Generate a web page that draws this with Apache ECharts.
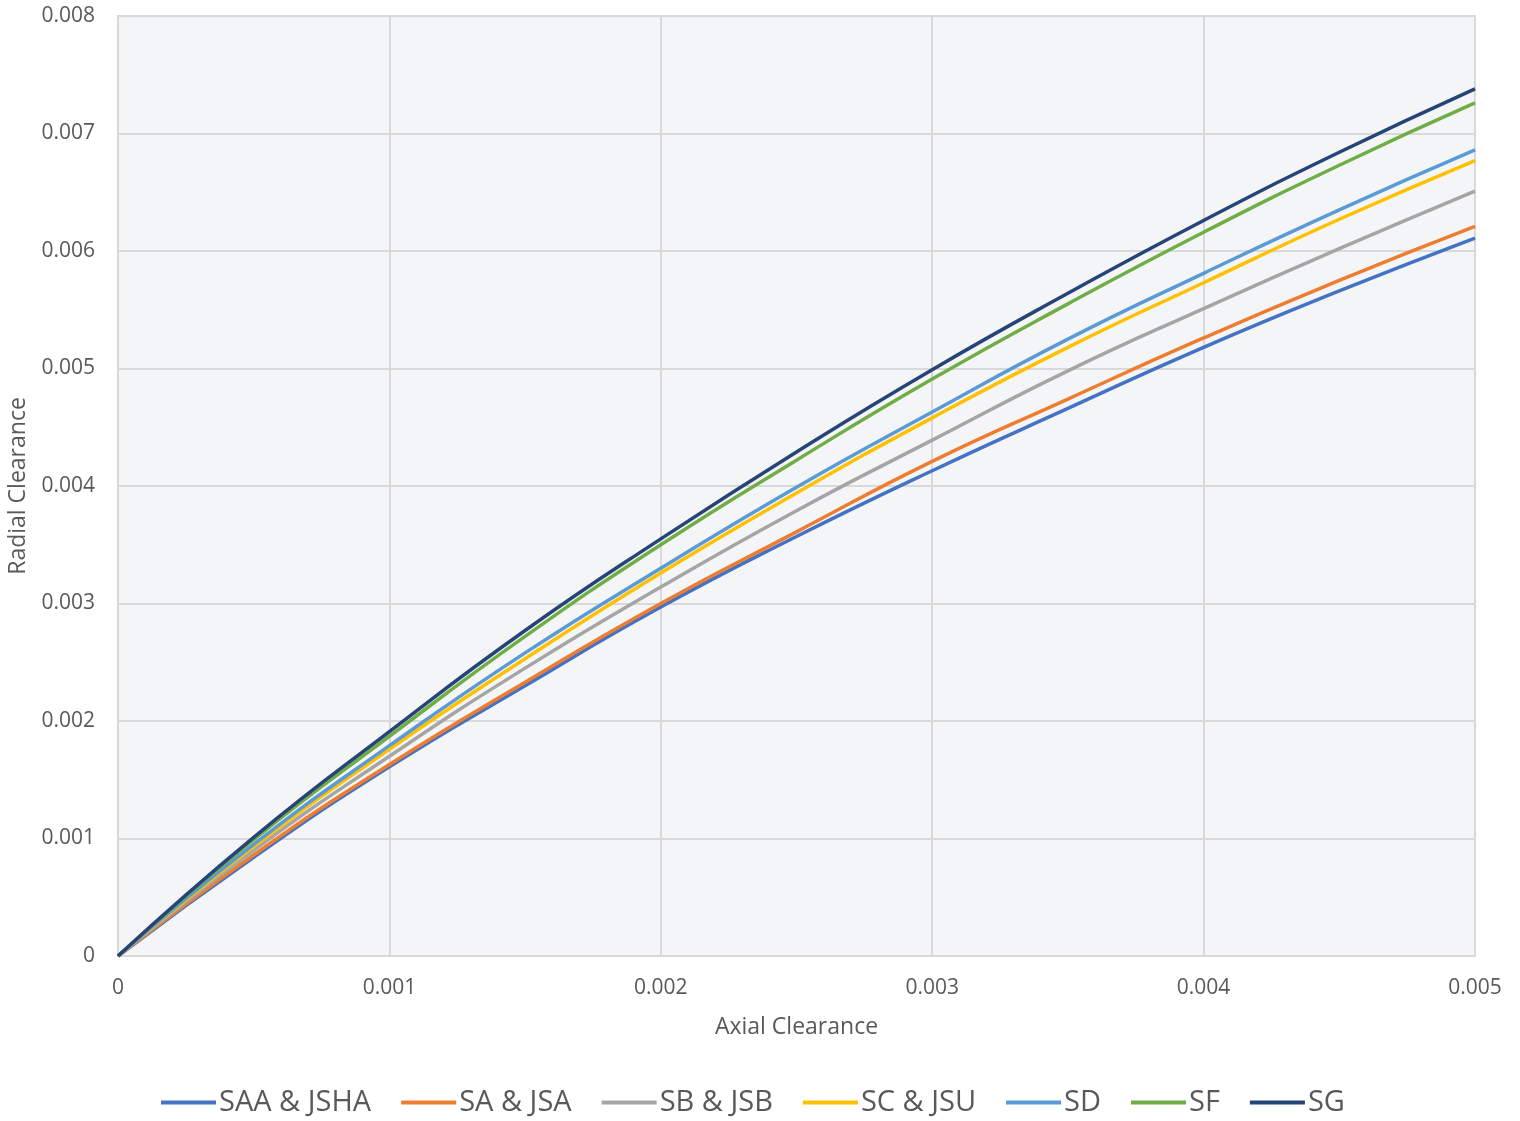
<!DOCTYPE html>
<html>
<head>
<meta charset="utf-8">
<title>Radial vs Axial Clearance</title>
<script src="https://cdn.jsdelivr.net/npm/echarts@6/dist/echarts.min.js"></script>
<style>
  html, body { margin: 0; padding: 0; background: #fff; }
  #chart { width: 1520px; height: 1121px; }
</style>
</head>
<body>
<div id="chart"></div>
<script>
// axial clearance (x) sample points
const axial = [0, 0.0005, 0.001, 0.0015, 0.002, 0.0025, 0.003, 0.0035, 0.004, 0.0045, 0.005]

// radial clearance per series
const saaJsha = [0, 0.00084, 0.00161, 0.00230, 0.00297, 0.00357, 0.00413, 0.00466, 0.00518, 0.00566, 0.00611]
const saJsa = [0, 0.00086, 0.00163, 0.00233, 0.00300, 0.00361, 0.00421, 0.00474, 0.00526, 0.00575, 0.00621]
const sbJsb = [0, 0.00090, 0.00170, 0.00245, 0.00314, 0.00379, 0.00439, 0.00498, 0.00551, 0.00602, 0.00651]
const scJsu = [0, 0.00093, 0.00176, 0.00253, 0.00326, 0.00394, 0.00458, 0.00518, 0.00573, 0.00627, 0.00677]
const sd = [0, 0.00095, 0.00179, 0.00258, 0.00330, 0.00399, 0.00463, 0.00525, 0.00581, 0.00635, 0.00686]
const sf = [0, 0.00099, 0.00187, 0.00272, 0.00350, 0.00422, 0.00491, 0.00555, 0.00616, 0.00673, 0.00726]
const sg = [0, 0.00101, 0.00191, 0.00277, 0.00355, 0.00429, 0.00499, 0.00564, 0.00626, 0.00684, 0.00738]

const seriesNames = ['SAA & JSHA', 'SA & JSA', 'SB & JSB', 'SC & JSU', 'SD', 'SF', 'SG']
const seriesValues = [saaJsha, saJsa, sbJsb, scJsu, sd, sf, sg]
const colors = ['#4472C4', '#ED7D31', '#A5A5A5', '#FFC000', '#5B9BD5', '#70AD47', '#264478']

const font = 'Open Sans'
const textColor = '#595959'

const chart = echarts.init(document.getElementById('chart'))

const option = {
  animation: false,
  color: colors,
  textStyle: { fontFamily: font },
  grid: {
    left: 118,
    right: 45,
    top: 16,
    bottom: 165,
    outerBoundsMode: 'none',
    containLabel: false,
    show: true,
    backgroundColor: '#f4f5f7',
    borderColor: '#d9d9d9',
    borderWidth: 2,
  },
  legend: {
    bottom: -1,
    left: 156,
    itemWidth: 55,
    itemHeight: 4,
    itemGap: 30,
    icon: 'rect',
    textStyle: {
      fontFamily: font,
      fontSize: 29,
      color: textColor,
      padding: [0, 0, 0, -2],
    },
    data: seriesNames,
  },
  xAxis: {
    type: 'value',
    min: 0,
    max: 0.005,
    interval: 0.001,
    name: 'Axial Clearance',
    nameLocation: 'middle',
    nameGap: 60,
    nameTextStyle: { fontSize: 23, color: textColor, fontFamily: font },
    axisLine: { show: true, lineStyle: { color: '#d9d9d9', width: 2 } },
    axisTick: { show: false },
    axisLabel: { fontSize: 21, color: textColor, margin: 22, fontFamily: font },
    splitLine: { show: true, lineStyle: { color: '#d9d9d9', width: 2 } },
  },
  yAxis: {
    type: 'value',
    min: 0,
    max: 0.008,
    interval: 0.001,
    name: 'Radial Clearance',
    nameLocation: 'middle',
    nameGap: 88,
    nameTextStyle: { fontSize: 23, color: textColor, fontFamily: font },
    axisLine: { show: true, lineStyle: { color: '#d9d9d9', width: 2 } },
    axisTick: { show: false },
    axisLabel: { fontSize: 21, color: textColor, margin: 23, fontFamily: font },
    splitLine: { show: true, lineStyle: { color: '#d9d9d9', width: 2 } },
  },
  series: seriesNames.map((name, i) => ({
    name,
    type: 'line',
    smooth: true,
    showSymbol: false,
    lineStyle: { width: 3.5, color: colors[i] },
    data: axial.map((x, j) => [x, seriesValues[i][j]]),
  })),
}

chart.setOption(option)
</script>
</body>
</html>
